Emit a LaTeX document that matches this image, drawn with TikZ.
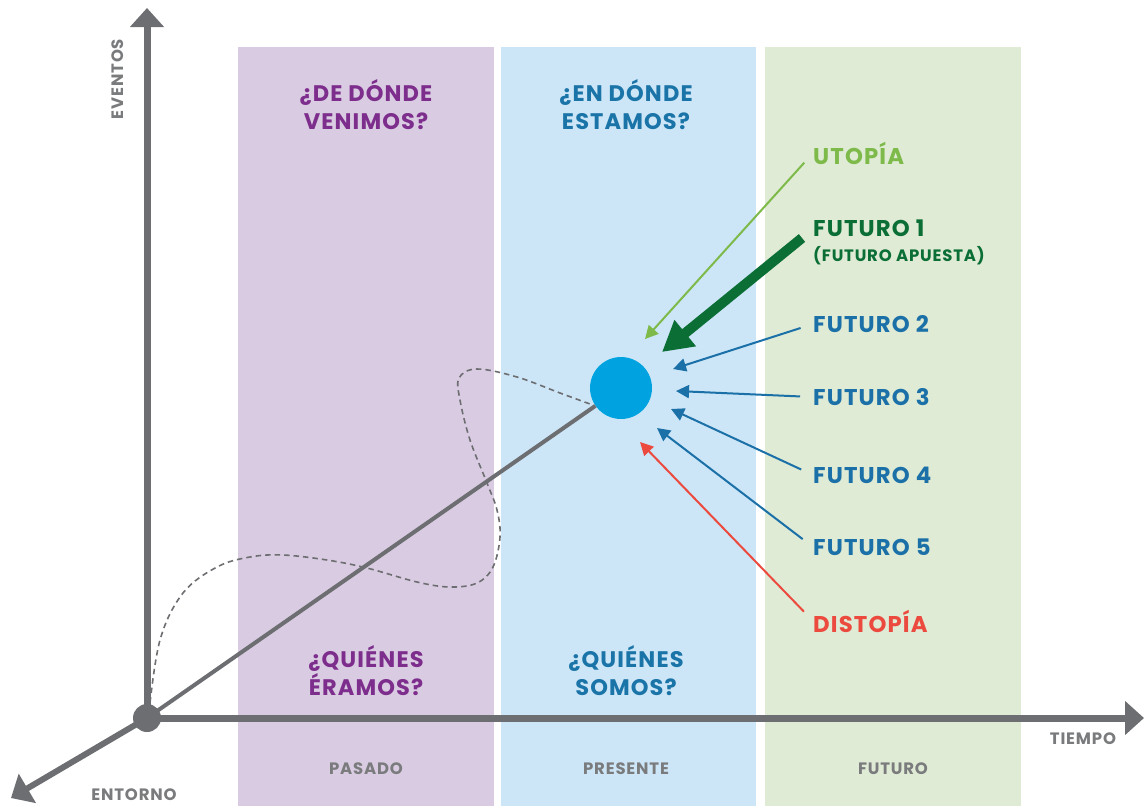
\documentclass[tikz,border=0pt]{standalone}
\usepackage{fontspec}
\setmainfont{Poppins}
\newfontfamily\labelfont{Poppins}[LetterSpace=5]
\usetikzlibrary{arrows.meta}

\definecolor{pastbg}{HTML}{D9CBE2}
\definecolor{nowbg}{HTML}{CCE6F7}
\definecolor{futbg}{HTML}{DFEBD5}
\definecolor{pasttxt}{HTML}{7D2D8C}
\definecolor{nowtxt}{HTML}{1A74A8}
\definecolor{axisgray}{HTML}{6D6E71}
\definecolor{labelgray}{HTML}{7A7B7D}
\definecolor{utopiagreen}{HTML}{7DBA4A}
\definecolor{betgreen}{HTML}{0B6E35}
\definecolor{futblue}{HTML}{1B70A8}
\definecolor{distred}{HTML}{EC4A3E}
\definecolor{nowdot}{HTML}{00A3E0}

\tikzset{
  panel/.style={fill=#1, draw=none},
  question/.style={font=\labelfont\bfseries\fontsize{22.5}{28}\selectfont, align=center, text=#1, inner sep=0},
  era/.style={font=\labelfont\bfseries\fontsize{16.5}{18}\selectfont, text=labelgray, inner sep=0},
  axislabel/.style={font=\labelfont\bfseries\fontsize{16.5}{18}\selectfont, text=labelgray, inner sep=0},
  scenario/.style={font=\labelfont\bfseries\fontsize{22.8}{24}\selectfont, text=#1, anchor=west, inner sep=0},
  axisline/.style={line width=7pt, draw=axisgray, -{Triangle[length=19pt,width=33pt]}},
  thinarrow/.style={line width=2pt, draw=#1, -{Triangle[length=13pt,width=13pt]}, shorten <=13pt},
}

\begin{document}
\begin{tikzpicture}[x=1pt,y=-1pt]
\useasboundingbox (0,0) rectangle (1145,807);

% time bands
\fill[panel=pastbg] (238,47) rectangle (494,806);
\fill[panel=nowbg]  (501,47) rectangle (756,806);
\fill[panel=futbg]  (765,47) rectangle (1021,806);

% band questions
\node[question=pasttxt] (q1) at (366,105) {¿DE DÓNDE\\VENIMOS?};
\node[question=nowtxt]  (q2) at (626,105) {¿EN DÓNDE\\ESTAMOS?};
\node[question=pasttxt] (q3) at (366,671) {¿QUIÉNES\\ÉRAMOS?};
\node[question=nowtxt]  (q4) at (626,671) {¿QUIÉNES\\SOMOS?};

% band names
\node[era] (e1) at (366,769) {PASADO};
\node[era] (e2) at (626,769) {PRESENTE};
\node[era] (e3) at (893,769) {FUTURO};

% origin and axes
\node[circle, fill=axisgray, minimum size=28pt, inner sep=0] (o) at (147,718) {};
\coordinate (ytip) at (147,8);
\coordinate (xtip) at (1144,718);
\coordinate (ztip) at (11,798);
\draw[axisline] (o.center) -- (ytip);
\draw[axisline] (o.center) -- (xtip);
\draw[axisline, line width=6pt] (o.center) -- (ztip);

\node[axislabel, rotate=90] (ev) at (118,79) {EVENTOS};
\node[axislabel] (ti) at (1083,739) {TIEMPO};
\node[axislabel] (en) at (134,795) {ENTORNO};

% wandering path of events
\draw[axisgray, line width=1.6pt, dash pattern=on 5.5pt off 4pt]
  plot[smooth, tension=0.6] coordinates {
    (149,712) (160,640) (183,593) (217,567) (250,557) (283,555) (327,560)
    (367,568) (417,582) (450,587) (477,583) (493,567) (500,537) (497,510)
    (487,483) (470,440) (460,400) (459,378) (477,369) (517,377) (560,393) (590,404)};

% present position
\node[circle, fill=nowdot, minimum size=62pt, inner sep=0] (now) at (621,388) {};
\draw[axisgray, line width=4pt] (o.center) -- (now);

% scenarios
\node[scenario=utopiagreen] (utopia) at (813,153) {UTOPÍA};
\node[scenario=betgreen] (f1) at (813,228) {FUTURO 1};
\node[scenario=betgreen, font=\labelfont\bfseries\fontsize{16.5}{17}\selectfont] (f1b) at (813,256) {(FUTURO APUESTA)};
\node[scenario=futblue] (f2) at (813,324) {FUTURO 2};
\node[scenario=futblue] (f3) at (813,397) {FUTURO 3};
\node[scenario=futblue] (f4) at (813,475) {FUTURO 4};
\node[scenario=futblue] (f5) at (813,547) {FUTURO 5};
\node[scenario=distred] (dis) at (813,621) {DISTOPÍA};

\coordinate (t-ut) at (645,339);
\coordinate (s-f1) at (802,238);
\coordinate (t-f1) at (662,352);
\coordinate (t-f2) at (673,369);
\coordinate (t-f3) at (676,391);
\coordinate (t-f4) at (671,409);
\coordinate (t-f5) at (657,428);
\coordinate (t-dis) at (640,442);

\draw[thinarrow=utopiagreen] (utopia.west) -- (t-ut);
\draw[betgreen, line width=10pt, -{Triangle[length=30pt,width=32pt]}] (s-f1) -- (t-f1);
\draw[thinarrow=futblue] (f2.west) -- (t-f2);
\draw[thinarrow=futblue] (f3.west) -- (t-f3);
\draw[thinarrow=futblue] (f4.west) -- (t-f4);
\draw[thinarrow=futblue] (f5.west) -- (t-f5);
\draw[thinarrow=distred] (dis.west) -- (t-dis);
\end{tikzpicture}
\end{document}
